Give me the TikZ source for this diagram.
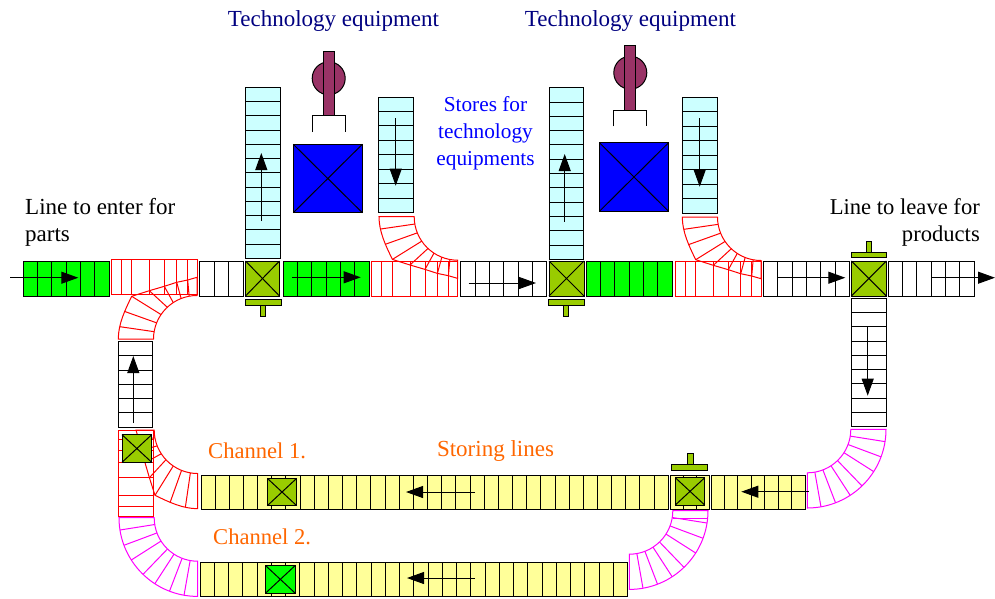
\documentclass[tikz,border=0pt]{standalone}
\usepackage{fontspec}
\setmainfont{Liberation Serif}
\usetikzlibrary{arrows.meta}
\definecolor{lime}{HTML}{00FF00}
\definecolor{paleblue}{HTML}{CCFFFF}
\definecolor{paleyellow}{HTML}{FFFF99}
\definecolor{olivebox}{HTML}{99CC00}
\definecolor{plum}{HTML}{993366}
\definecolor{navytext}{HTML}{000080}
\definecolor{channeltext}{HTML}{FF6600}
\definecolor{bendred}{HTML}{FF0000}
\definecolor{bendpink}{HTML}{FF00FF}
\definecolor{tablue}{HTML}{0000FF}
\tikzset{
  belt/.style={draw=black,line width=1pt},
  redbend/.style={draw=bendred,line width=1pt},
  magbend/.style={draw=bendpink,line width=1pt},
  flow/.style={-{Triangle[length=17pt,width=12pt]},line width=1pt,black},
  solid box/.style={draw=black,line width=1pt,line join=miter},
  caption/.style={font=\fontsize{23}{27}\selectfont,align=center,inner sep=0pt},
  smaller caption/.style={caption,font=\fontsize{22.6}{27}\selectfont}
}
% belt with slats across: x0,y0,x1,y1,cells,fill
\newcommand{\beltH}[6]{%
  \draw[belt,fill=#6] (#1,#2) rectangle (#3,#4);
  \foreach \k in {1,...,#5} \draw[belt] ({#1+\k/#5*(#3-#1)},#2) -- ({#1+\k/#5*(#3-#1)},#4);
}
\newcommand{\beltV}[6]{%
  \draw[belt,fill=#6] (#1,#2) rectangle (#3,#4);
  \foreach \k in {1,...,#5} \draw[belt] (#1,{#2+\k/#5*(#4-#2)}) -- (#3,{#2+\k/#5*(#4-#2)});
}
\newcommand{\crossbox}[5]{%
  \draw[solid box,fill=#5] (#1,#2) rectangle (#3,#4);
  \draw[belt] (#1,#2) -- (#3,#4) (#1,#4) -- (#3,#2);
}
% red curve running into a straight piece, local origin at the far corner
\newcommand{\redcurve}[1]{%
  \begin{scope}[#1]
    \draw[redbend] (-86,44.3) rectangle (0,79.3);
    \foreach \u in {-76,-65.3,-47.7,-32.7,-20.3,-9.3} \draw[redbend] (\u,44.3) -- (\u,79.3);
    \draw[redbend] (-78.7,0) -- (-43.5,0) .. controls (-43.5,24) and (-24,43.5) .. (0,43.5) -- (0,61.7)
      -- (-9.3,59) -- (-20.3,56.7) -- (-32.7,52.7) -- (-47.7,48.3) -- (-65.3,42.7)
      .. controls (-72,29) and (-78.7,15) .. cycle;
    \foreach \ang/\ou/\ov in {9.7/-77/12.3,21.8/-72.7/27.7,34.2/-65.3/42.7,46.9/-47.7/48.3,56.9/-32.7/52.7,68.6/-20.3/56.7,79.6/-9.3/59}
      \draw[redbend] ({-43.5*cos(\ang)},{43.5*sin(\ang)}) -- (\ou,\ov);
  \end{scope}
}
\newcommand{\magcurve}[1]{%
  \begin{scope}[#1]
    \draw[magbend] (-78.7,0) -- (-43.5,0) .. controls (-43.5,24) and (-24,43.5) .. (0,43.5) -- (0,78.7)
      .. controls (-43.5,78.7) and (-78.7,43.5) .. cycle;
    \foreach \ang in {9,20.5,32.5,46,57,69,80}
      \draw[magbend] ({-43.5*cos(\ang)},{43.5*sin(\ang)}) -- ({-78.7*cos(\ang)},{78.7*sin(\ang)});
  \end{scope}
}
% machine with fork, spindle and table
\newcommand{\machine}[4]{%
  \begin{scope}[shift={(#1,#2)}]
    \draw[solid box,fill=plum] (0,0) circle (16.5pt);
    \draw[solid box,fill=plum] (-5.6,-27.3) rectangle (5.6,37.3);
    \draw[belt] (-16.4,53.7) -- (-16.4,37.3) -- (16.4,37.3) -- (16.4,53.7);
  \end{scope}
  \crossbox{#3}{#4}{#3+69}{#4+68.4}{tablue}
}
\begin{document}
\begin{tikzpicture}[x=1pt,y=-1pt]
  \useasboundingbox (0,0) rectangle (995,598);
  % upper line
  \beltH{23}{261}{109}{296}{6}{lime}
  \beltH{199.5}{261}{243}{296}{3}{white}
  \beltH{283}{261}{369}{296}{6}{lime}
  \beltH{460.7}{261}{546.7}{296}{6}{white}
  \beltH{586.3}{261}{672.3}{296}{6}{lime}
  \beltH{763.3}{261}{849.7}{296}{6}{white}
  \beltH{888.3}{261}{974.3}{296}{6}{white}
  \beltV{118.3}{341.7}{152.7}{427}{6}{white}
  \beltV{851.3}{298.3}{886}{426.7}{9}{white}
  % stores
  \beltV{245.3}{87.3}{280}{258.3}{12}{paleblue}
  \beltV{378.7}{97}{413.3}{212.7}{8}{paleblue}
  \beltV{549}{87.7}{583.7}{259.3}{12}{paleblue}
  \beltV{682.3}{97.3}{717}{213.3}{8}{paleblue}
  % storing lines
  \beltH{201}{475}{668.3}{509}{33}{paleyellow}
  \beltH{670.7}{475}{709.3}{509}{3}{paleyellow}
  \beltH{711}{475}{805.3}{509}{7}{paleyellow}
  \beltH{200}{562.3}{627.7}{596.7}{30}{paleyellow}
  % curves
  \redcurve{shift={(197,339)},yscale=-1}
  \redcurve{shift={(457.7,216.7)}}
  \redcurve{shift={(761,217)}}
  \redcurve{shift={(197.7,430)},cm={0,1,1,0,(0,0)}}
  \magcurve{shift={(197.7,517.7)}}
  \magcurve{shift={(807.3,429.3)},xscale=-1}
  \magcurve{shift={(629.3,510.7)},xscale=-1}
  \draw[magbend] (673.3,518.4) -- (707.7,518.4);
  % transfer boxes
  \crossbox{245.5}{261}{279.5}{296}{olivebox}
  \crossbox{549}{261}{584}{296}{olivebox}
  \crossbox{851.3}{261}{886.3}{296}{olivebox}
  \crossbox{122}{434.7}{151.7}{462.3}{olivebox}
  \crossbox{675.3}{477.7}{704.7}{505}{olivebox}
  \crossbox{267.3}{478.3}{296.7}{505.7}{olivebox}
  \crossbox{265.7}{565.7}{295}{593}{lime}
  % stops
  \draw[solid box,fill=olivebox] (245,299) rectangle (281,305);
  \draw[solid box,fill=olivebox] (260,305) rectangle (265.5,316);
  \draw[solid box,fill=olivebox] (548.3,299.3) rectangle (584,305);
  \draw[solid box,fill=olivebox] (563,305) rectangle (568.7,316);
  \draw[solid box,fill=olivebox] (851.3,252) rectangle (886.7,257.7);
  \draw[solid box,fill=olivebox] (866,241.7) rectangle (871.3,252);
  \draw[solid box,fill=olivebox] (671.7,464.3) rectangle (707.7,470);
  \draw[solid box,fill=olivebox] (687.7,453.3) rectangle (693,464.3);
  % machines
  \machine{328.7}{78.3}{293.3}{144.3}
  \machine{630.3}{72.7}{599.5}{142.8}
  % flow directions
  \draw[flow] (10,277.7) -- (78.3,277.7);
  \draw[flow] (292.3,277.3) -- (360.7,277.3);
  \draw[flow] (468.7,283) -- (536,283);
  \draw[flow] (778.3,277.7) -- (845.3,277.7);
  \draw[flow] (931.7,277.7) -- (995,277.7);
  \draw[flow] (133.3,423) -- (133.3,356);
  \draw[flow] (261.3,221) -- (261.3,153);
  \draw[flow] (395.7,118) -- (395.7,185.7);
  \draw[flow] (564.7,221.7) -- (564.7,154);
  \draw[flow] (699.7,118.3) -- (699.7,186.7);
  \draw[flow] (867.7,327) -- (867.7,395.7);
  \draw[flow] (808.7,491.7) -- (741.3,491.7);
  \draw[flow] (475,492) -- (406,492);
  \draw[flow] (475,578) -- (407,578);
  % texts
  \node[caption,text=navytext] (techa) at (333.5,20.5) {Technology equipment};
  \node[caption,text=navytext] (techb) at (630.5,20.5) {Technology equipment};
  \node[caption,font=\fontsize{21.3}{27}\selectfont,text=tablue] (stores) at (485.5,133.5) {Stores for\\technology\\equipments};
  \node[caption,align=left,anchor=west] (enter) at (25,222) {Line to enter for\\parts};
  \node[smaller caption,align=right,anchor=east] (leave) at (980,222) {Line to leave for\\products};
  \node[smaller caption,text=channeltext,anchor=west] (chana) at (208,450.5) {Channel 1.};
  \node[smaller caption,text=channeltext,anchor=west] (chanb) at (213,536.5) {Channel 2.};
  \node[caption,text=channeltext] (storing) at (495.5,450.5) {Storing lines};
\end{tikzpicture}
\end{document}
